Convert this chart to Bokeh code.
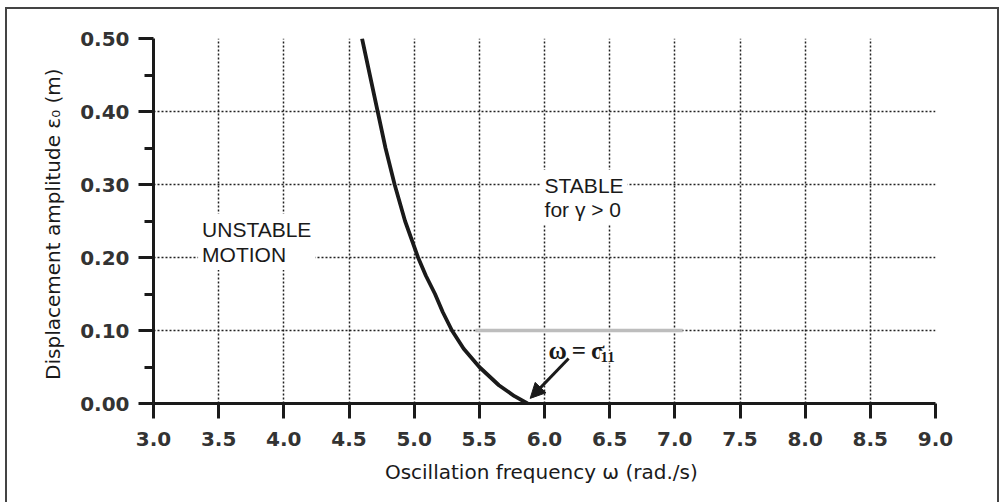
from bokeh.plotting import figure
from bokeh.models import (FixedTicker, NumeralTickFormatter, Label, Arrow,
                          NormalHead, Range1d)
from bokeh.embed import file_html
from bokeh.resources import INLINE

# Stability boundary: displacement amplitude vs. oscillation frequency
omega = [4.60, 4.72, 4.78, 4.85, 4.93, 5.03, 5.09, 5.16, 5.22, 5.29,
         5.38, 5.50, 5.65, 5.77, 5.87]
eps0 = [0.50, 0.40, 0.35, 0.30, 0.25, 0.20, 0.175, 0.15, 0.125, 0.10,
        0.075, 0.05, 0.025, 0.01, 0.00]

# shaded stretch of the 0.10 grid line
shade_w = [5.47, 7.06]
shade_e = [0.10, 0.10]

x_ticks = [3.0, 3.5, 4.0, 4.5, 5.0, 5.5, 6.0, 6.5, 7.0, 7.5, 8.0, 8.5, 9.0]
y_ticks = [0.0, 0.1, 0.2, 0.3, 0.4, 0.5]
y_minor = [0.05, 0.15, 0.25, 0.35, 0.45]

INK = "#1a1a1a"
SANS = "DejaVu Sans"

p = figure(width=1001, height=502, output_backend="svg", toolbar_location=None,
           x_range=Range1d(3.0, 9.0), y_range=Range1d(0.0, 0.5),
           min_border_left=153, min_border_right=66,
           min_border_top=38, min_border_bottom=99)
p.outline_line_color = None
p.background_fill_color = "white"
p.border_fill_alpha = 0

# outer frame around the whole figure
p.styles = {
    "background": (
        "linear-gradient(#444,#444) 5px 7px / 2px 495px no-repeat,"
        "linear-gradient(#444,#444) 5px 7px / 994px 2px no-repeat,"
        "linear-gradient(#444,#444) 997px 7px / 2px 495px no-repeat,"
        "white"
    )
}

# axes
p.xaxis.ticker = FixedTicker(ticks=x_ticks)
p.yaxis.ticker = FixedTicker(ticks=y_ticks, minor_ticks=y_minor)
p.xaxis.formatter = NumeralTickFormatter(format="0.0")
p.yaxis.formatter = NumeralTickFormatter(format="0.00")

for ax in (p.xaxis[0], p.yaxis[0]):
    ax.axis_line_color = INK
    ax.axis_line_width = 3
    ax.major_tick_line_color = INK
    ax.major_tick_line_width = 3
    ax.major_tick_in = 0
    ax.major_tick_out = 15
    ax.major_label_text_font = SANS
    ax.major_label_text_font_size = "20px"
    ax.major_label_text_font_style = "bold"
    ax.major_label_text_color = "#333333"
    ax.axis_label_text_font = SANS
    ax.axis_label_text_font_size = "20px"
    ax.axis_label_text_font_style = "normal"
    ax.axis_label_text_color = INK

p.xaxis.major_label_standoff = 13
p.yaxis.major_label_standoff = 9

p.xaxis.minor_tick_line_color = None
p.yaxis.minor_tick_line_color = INK
p.yaxis.minor_tick_line_width = 3
p.yaxis.minor_tick_in = 0
p.yaxis.minor_tick_out = 9

p.xaxis.axis_label = "Oscillation frequency \u03c9  (rad./s)"
p.yaxis.axis_label = "Displacement amplitude \u03b5\u2080  (m)"
p.xaxis.axis_label_standoff = 11
p.yaxis.axis_label_standoff = 12

# dotted grid
p.xgrid.ticker = FixedTicker(ticks=x_ticks)
p.ygrid.ticker = FixedTicker(ticks=y_ticks)
for g in (p.xgrid[0], p.ygrid[0]):
    g.grid_line_color = "#222222"
    g.grid_line_width = 1.5
    g.grid_line_dash = "2 2"

p.line(shade_w, shade_e, line_color="#bdbdbd", line_width=3.5)

# boundary curve
p.line(omega, eps0, line_color=INK, line_width=3.8)

# region labels
p.add_layout(Label(x=3.342, y=0.260, text="UNSTABLE\nMOTION",
                   text_font="Liberation Sans", text_font_size="21px",
                   text_color=INK, text_align="left", text_baseline="top",
                   text_line_height=1.1,
                   background_fill_color="white", padding=4))
p.add_layout(Label(x=5.97, y=0.320, text="STABLE\nfor \u03b3 > 0",
                   text_font="Liberation Sans", text_font_size="21px",
                   text_color=INK, text_align="left", text_baseline="top",
                   text_line_height=1.05,
                   background_fill_color="white", padding=4))

# natural-frequency marker
p.add_layout(Label(x=6.0, y=0.0726, x_offset=2,
                   text="\u03c9\u2009=\u2009\u03c3",
                   text_font="Liberation Serif", text_font_style="bold",
                   text_font_size="25px", text_color=INK,
                   text_align="left", text_baseline="alphabetic",
                   background_fill_color="white", padding=2))
p.add_layout(Label(x=6.0, y=0.064, x_offset=55, text="11",
                   text_font="Liberation Serif", text_font_style="bold",
                   text_font_size="15px", text_color=INK,
                   text_align="left", text_baseline="alphabetic",
                   background_fill_color="white", padding=1))

p.add_layout(Arrow(end=NormalHead(size=15, fill_color=INK, line_color=INK),
                   x_start=6.185, y_start=0.0616,
                   x_end=omega[-1] + 0.02, y_end=eps0[-1] + 0.007,
                   line_color=INK, line_width=3))

open("out.html", "w").write(file_html(p, INLINE))
